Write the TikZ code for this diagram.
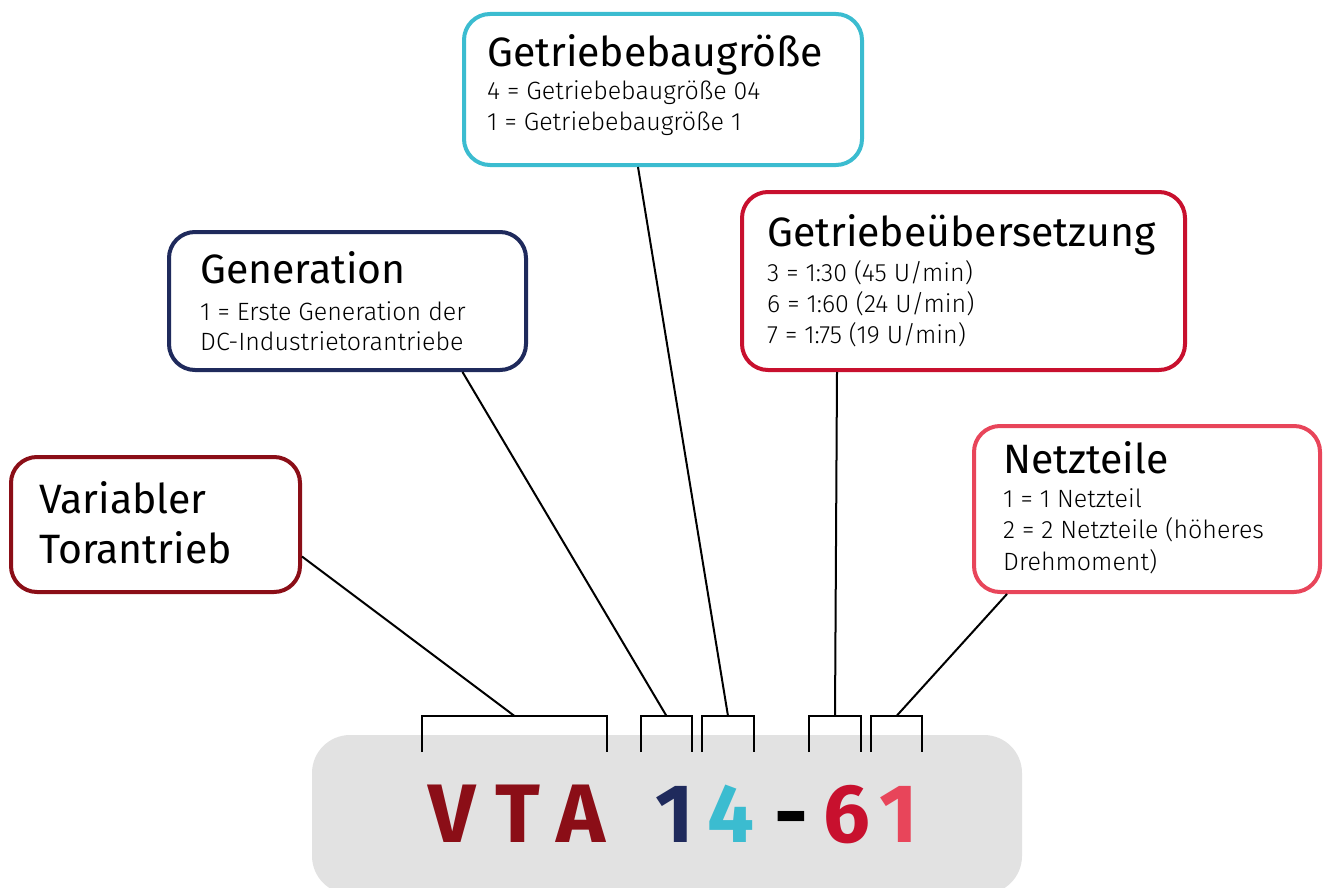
\documentclass[tikz,border=0pt]{standalone}
\usepackage{fontspec}
\setmainfont{Fira Sans}
\newfontfamily\lightfont{Fira Sans Light}
\usetikzlibrary{calc}
\definecolor{cV}{HTML}{8B0E17}
\definecolor{cG}{HTML}{1F2A5C}
\definecolor{cS}{HTML}{3BBCD0}
\definecolor{cR}{HTML}{C8102E}
\definecolor{cN}{HTML}{E8455A}
\definecolor{cPlate}{HTML}{E2E2E2}

\tikzset{
  infobox/.style={draw=#1, line width=4pt, rounded corners=26pt, fill=white,
    inner sep=0pt, anchor=north west},
  title/.style={font=\fontsize{41}{47}\selectfont, inner sep=0pt, anchor=base west},
  body/.style={font=\lightfont\fontsize{25}{31}\selectfont, inner sep=0pt, anchor=base west},
  code/.style={font=\fontsize{83}{90}\selectfont\bfseries, inner sep=0pt,
    anchor=base, text=#1},
  bracket/.style={line width=2.5pt},
  link/.style={line width=2pt},
}

\begin{document}
\begin{tikzpicture}[x=1pt,y=-1pt]
  \useasboundingbox (0,0) rectangle (1324,888);

  % code plate
  \fill[cPlate, rounded corners=38pt] (312,735) rectangle (1022,894);
  \foreach \ch/\x/\c [count=\i] in {V/452/cV, T/518/cV, A/581/cV, 1/675/cG,
      4/731/cS, -/791/black, 6/847/cR, 1/899/cN}{
      \node[code=\c] (code\i) at (\x,842) {\ch};
    }

  % brackets over the code
  \foreach \l/\r/\n in {422/607/bV, 641/692/bG, 702/754/bS, 809/861/bR, 871/922/bN}{
      \draw[bracket] (\l,752) -- (\l,716) -- (\r,716) -- (\r,752);
      \coordinate (\n) at ({(\l+\r)/2},716);
    }

  % boxes
  \node[infobox=cV, minimum width=289pt, minimum height=135pt] (vt) at (9,455) {};
  \node[infobox=cG, minimum width=357pt, minimum height=138pt] (gen) at (167,230) {};
  \node[infobox=cS, minimum width=398pt, minimum height=151pt] (size) at (462,12) {};
  \node[infobox=cR, minimum width=443pt, minimum height=178pt] (ratio) at (740,190) {};
  \node[infobox=cN, minimum width=346pt, minimum height=166pt] (psu) at (972,424) {};

  \node[title] (vtT1) at (39,513) {Variabler};
  \node[title] (vtT2) at (39,563) {Torantrieb};

  \node[title] (genT) at (200,283) {Generation};
  \node[body] (genL1) at (200,320) {1 = Erste Generation der};
  \node[body] (genL2) at (200,350) {DC-Industrietorantriebe};

  \node[title] (sizeT) at (487,67) {Getriebebaugröße};
  \node[body] (sizeL1) at (487,100) {4 = Getriebebaugröße 04};
  \node[body] (sizeL2) at (487,131) {1 = Getriebebaugröße 1};

  \node[title] (ratioT) at (767,246) {Getriebeübersetzung};
  \node[body] (ratioL1) at (767,281) {3 = 1:30 (45 U/min)};
  \node[body] (ratioL2) at (767,312) {6 = 1:60 (24 U/min)};
  \node[body] (ratioL3) at (767,343) {7 = 1:75 (19 U/min)};

  \node[title] (psuT) at (1003,473) {Netzteile};
  \node[body] (psuL1) at (1003,507) {1 = 1 Netzteil};
  \node[body] (psuL2) at (1003,538) {2 = 2 Netzteile (höheres};
  \node[body] (psuL3) at (1003,570) {Drehmoment)};

  % connectors
  \draw[link] ([yshift=-32pt]vt.east) -- (bV);
  \draw[link] ([xshift=115pt]gen.south) -- (bG);
  \draw[link] ([xshift=-25pt]size.south) -- (bS);
  \draw[link] ([xshift=-126.5pt]ratio.south) -- (bR);
  \draw[link] ([xshift=-140pt]psu.south) -- (bN);
\end{tikzpicture}
\end{document}
